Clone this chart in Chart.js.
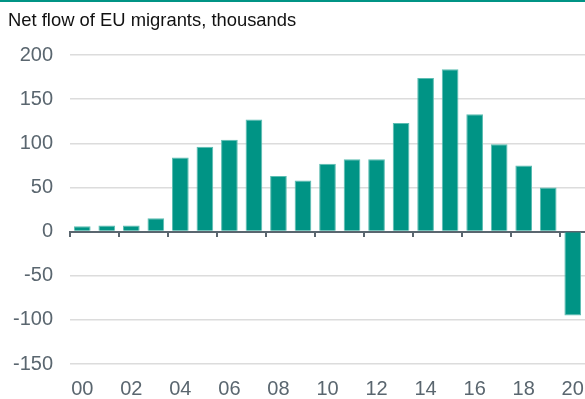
<!DOCTYPE html>
<html>
<head>
<meta charset="utf-8">
<script src="https://cdn.jsdelivr.net/npm/chart.js@4"></script>
<style>
  html, body { margin: 0; padding: 0; background: #fff; }
  #wrap { width: 585px; height: 397px; border-top: 2px solid #009485; }
  canvas { display: block; }
</style>
</head>
<body>
<div id="wrap"><canvas id="chart" width="585" height="397"></canvas></div>
<script>
// Net flow of EU migrants, thousands, by year
const years = [2000, 2001, 2002, 2003, 2004, 2005, 2006, 2007, 2008, 2009, 2010,
               2011, 2012, 2013, 2014, 2015, 2016, 2017, 2018, 2019, 2020];
const netFlow = [6, 7, 7, 15, 84, 96, 104, 127, 63, 58, 77,
                 82, 82, 123, 174, 184, 133, 99, 75, 50, -95];
const yTicks = [-150, -100, -50, 0, 50, 100, 150, 200];

const TEAL = '#009485';
const TEAL_EDGE = '#5cbdb2';
const SLATE = '#5a666f';
const GRID = '#dcdcdc';

const shortYear = y => String(y % 100).padStart(2, '0');

new Chart(document.getElementById('chart'), {
  type: 'bar',
  data: {
    labels: years.map(shortYear),
    datasets: [{
      data: netFlow,
      backgroundColor: TEAL,
      borderColor: TEAL_EDGE,
      borderWidth: 1,
      barPercentage: 0.68,
      categoryPercentage: 1.0
    }]
  },
  options: {
    responsive: false,
    animation: false,
    devicePixelRatio: 1,
    layout: { padding: { left: 8, right: 0, top: 0, bottom: 0 } },
    plugins: {
      legend: { display: false },
      tooltip: { enabled: false },
      title: {
        display: true,
        text: 'Net flow of EU migrants, thousands',
        align: 'start',
        color: '#111',
        font: { family: '"Liberation Sans", Arial, sans-serif', size: 18.4, weight: 'normal' },
        padding: { top: 7.5, bottom: 23.5 }
      }
    },
    scales: {
      x: {
        type: 'category',
        position: 'bottom',
        offset: true,
        grid: { display: false, drawTicks: false },
        border: { display: false },
        ticks: {
          autoSkip: false,
          maxRotation: 0,
          minRotation: 0,
          padding: 13,
          color: SLATE,
          font: { family: '"Liberation Sans", Arial, sans-serif', size: 20 },
          callback: function (value, index) {
            return index % 2 === 0 ? this.getLabelForValue(value) : '';
          }
        },
        afterFit: scale => {
          scale.height = 35;
          scale.paddingLeft = 0;
          scale.paddingRight = 0;
        }
      },
      zeroAxis: {
        type: 'category',
        axis: 'x',
        position: { y: 0 },
        offset: true,
        grid: {
          offset: true,
          drawOnChartArea: false,
          drawTicks: true,
          tickLength: 4,
          lineWidth: 2,
          color: ctx => (ctx.index % 2 === 0 ? SLATE : 'rgba(0,0,0,0)')
        },
        border: { display: true, color: SLATE, width: 2 },
        ticks: { display: false },
        afterFit: scale => {
          scale.paddingLeft = 0;
          scale.paddingRight = 0;
        }
      },
      y: {
        min: yTicks[0],
        max: yTicks[yTicks.length - 1],
        afterBuildTicks: scale => { scale.ticks = yTicks.map(v => ({ value: v })); },
        grid: {
          drawTicks: false,
          lineWidth: 1.5,
          color: ctx => (ctx.tick && ctx.tick.value === 0 ? SLATE : GRID)
        },
        border: { display: false },
        ticks: {
          padding: 17,
          color: SLATE,
          font: { family: '"Liberation Sans", Arial, sans-serif', size: 20 }
        },
        afterFit: scale => { scale.width = 62; }
      }
    }
  }
});
</script>
</body>
</html>
